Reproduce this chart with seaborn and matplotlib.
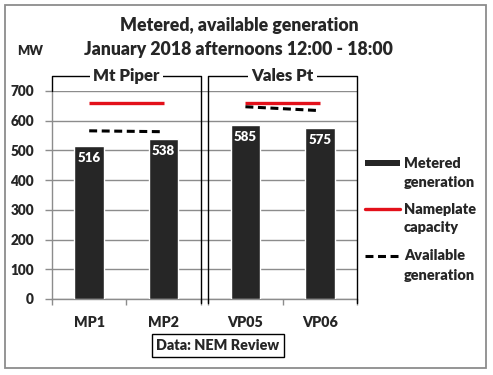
import matplotlib
matplotlib.use("Agg")
import matplotlib.pyplot as plt
import seaborn as sns
import numpy as np
import pandas as pd
from matplotlib.patches import Rectangle
from matplotlib.lines import Line2D

# ---- data ----
groups = ["Mt Piper", "Vales Pt"]
units = ["MP1", "MP2", "VP05", "VP06"]
unit_group = [0, 0, 1, 1]
metered = [516, 538, 585, 575]
nameplate = [660, 660, 660, 660]
available = [566, 563, 647, 634]
yticks = [0, 100, 200, 300, 400, 500, 600, 700]

# ---- layout ----
W, H = 493, 375
GAP = 0.1
pos = [i + 0.5 + GAP * g for i, g in enumerate(unit_group)]

sns.set_theme(style="white")
FONT = "Lato"
WT = "heavy"
plt.rcParams["font.family"] = [FONT, "DejaVu Sans"]
plt.rcParams["font.weight"] = WT

fig = plt.figure(figsize=(W / 100, H / 100), dpi=100)
fig.patch.set_facecolor("white")
renderer = fig.canvas.get_renderer()

def fit(text, width_px):
    t = fig.text(0, 0, text, fontsize=10, fontweight=WT)
    w = t.get_window_extent(renderer=renderer).width
    t.remove()
    return 10 * width_px / w

def fx(x):
    return x / W

def fy(y):
    return 1 - y / H

FS_TITLE = fit("Metered, available generation", 239)
FS_TICK = fit("700", 23.5)
FS_CAT = fit("MP1", 31)
FS_GROUP = fit("Mt Piper", 67)
FS_LEG = fit("generation", 71)
FS_SRC = fit("Data: NEM Review", 123)
FS_BAR = fit("516", 23)
FS_MW = fit("MW", 26)

ax = fig.add_axes([fx(52), fy(299), (357 - 52) / W, (299 - 91) / H])

df = pd.DataFrame({"pos": pos, "metered": metered, "unit": units})
sns.barplot(data=df, x="pos", y="metered", native_scale=True, width=0.4,
            color="#262626", saturation=1, ax=ax, zorder=3)

for g in range(len(groups)):
    idx = [i for i, ug in enumerate(unit_group) if ug == g]
    xs = [pos[i] for i in idx]
    sns.lineplot(x=xs, y=[nameplate[i] for i in idx], color="#e3101a", lw=2.4,
                 ax=ax, zorder=4, solid_capstyle="butt")
    sns.lineplot(x=xs, y=[available[i] for i in idx], color="black", lw=2.2,
                 linestyle=(0, (2.6, 1.5)), ax=ax, zorder=4)

ax.set_xlim(0, len(units) + GAP * (len(groups) - 1))
ax.set_ylim(0, 700)
ax.set_yticks(yticks)
ax.set_yticklabels([str(v) for v in yticks], fontsize=FS_TICK, fontweight=WT)
ax.set_xticks(pos)
ax.set_xticklabels(units, fontsize=FS_CAT, fontweight=WT)
ax.tick_params(axis="x", length=0, pad=12)
ax.tick_params(axis="y", length=5, color="#8c8c8c", width=1, pad=8, left=True)
bounds = [0, 1, 2, 2 + GAP, 3 + GAP, 4 + GAP]
ax.set_xticks(bounds, minor=True)
ax.tick_params(axis="x", which="minor", length=4, color="#8c8c8c", width=1, bottom=True)
ax.grid(axis="y", color="#8c8c8c", lw=1, zorder=0)
ax.set_axisbelow(True)
for s in ["top", "right"]:
    ax.spines[s].set_visible(False)
for s in ["left", "bottom"]:
    ax.spines[s].set_color("#8c8c8c")
    ax.spines[s].set_linewidth(1)
ax.set_xlabel("")
ax.set_ylabel("")

# bar value labels
for x, v in zip(pos, metered):
    ax.annotate(str(v), (x, v), xytext=(0, -12), textcoords="offset pixels",
                ha="center", va="center", color="white", fontsize=FS_BAR,
                fontweight=WT, zorder=5)

# group boxes
top = 750
for g, name in enumerate(groups):
    x0 = g * (2 + GAP)
    x1 = x0 + 2
    ax.add_line(Line2D([x0, x0, x1, x1], [700 if g == 0 else -13, top, top, -13],
                       color="black", lw=1, clip_on=False, zorder=6))
    ax.text((x0 + x1) / 2, top, name, ha="center", va="center", fontsize=FS_GROUP,
            fontweight=WT, zorder=7, clip_on=False,
            bbox=dict(facecolor="white", edgecolor="none", pad=2.5))

# titles
fig.text(fx(239), fy(26), "Metered, available generation", ha="center", va="center",
         fontsize=FS_TITLE, fontweight=WT)
fig.text(fx(238), fy(49), "January 2018 afternoons 12:00 - 18:00", ha="center",
         va="center", fontsize=FS_TITLE, fontweight=WT)
fig.text(fx(30), fy(51), "MW", ha="center", va="center", fontsize=FS_MW, fontweight=WT)

# legend (manual)
fig.patches.append(Rectangle((fx(365), fy(166)), fx(400) - fx(365), 6.5 / H,
                             transform=fig.transFigure, facecolor="#262626",
                             edgecolor="none"))
fig.lines.append(Line2D([fx(365), fx(400)], [fy(209), fy(209)], color="#e3101a",
                        lw=2.4, transform=fig.transFigure))
fig.lines.append(Line2D([fx(365), fx(400)], [fy(256), fy(256)], color="black",
                        lw=2.2, linestyle=(0, (2.6, 1.5)), transform=fig.transFigure))
leg_text = [("Metered", 163), ("generation", 182), ("Nameplate", 209),
            ("capacity", 228), ("Available", 256), ("generation", 275)]
for t, y in leg_text:
    fig.text(fx(404), fy(y), t, ha="left", va="center", fontsize=FS_LEG, fontweight=WT)

# source box
fig.text(fx(218), fy(345.5), "Data: NEM Review", ha="center", va="center",
         fontsize=FS_SRC, fontweight=WT,
         bbox=dict(facecolor="white", edgecolor="black", lw=1, pad=3.5))

# outer border
fig.patches.append(Rectangle((fx(5), fy(368)), fx(486) - fx(5), (368 - 5) / H,
                             transform=fig.transFigure, facecolor="none",
                             edgecolor="#8c8c8c", lw=1.3))

fig.savefig("out.png", dpi=100)
